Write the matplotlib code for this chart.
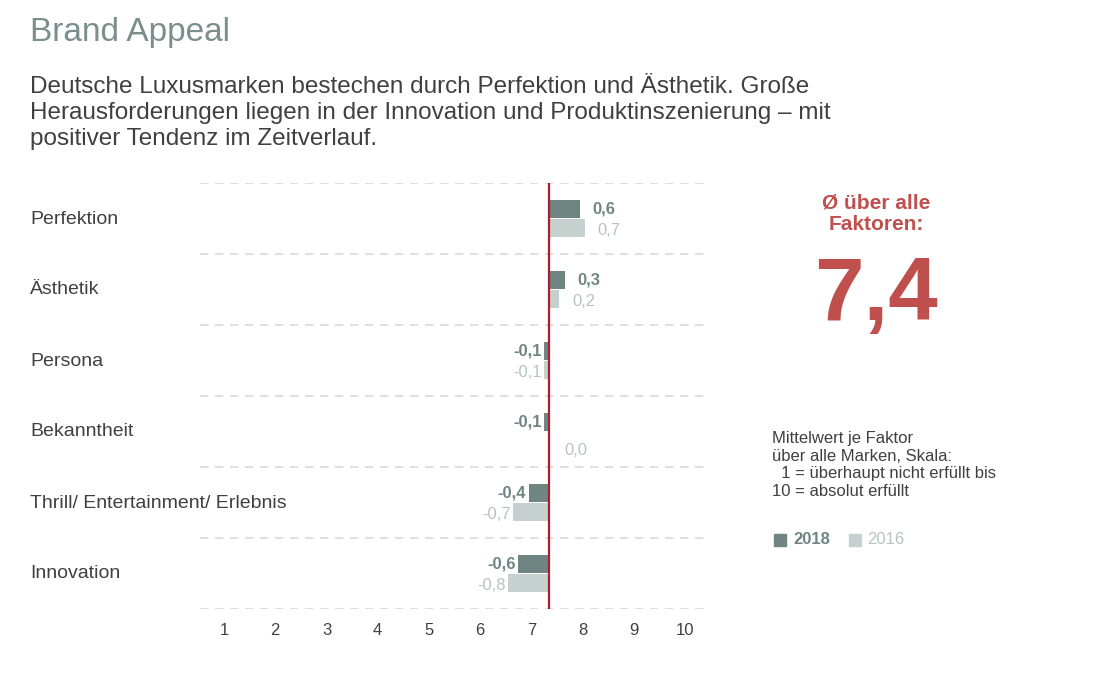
import numpy as np
import matplotlib
matplotlib.use("Agg")
import matplotlib.pyplot as plt

plt.rcParams['font.family'] = ['Liberation Sans', 'DejaVu Sans']

# data
categories = ["Perfektion", "Ästhetik", "Persona", "Bekanntheit",
              "Thrill/ Entertainment/ Erlebnis", "Innovation"]
diff_2018 = [0.6, 0.3, -0.1, -0.1, -0.4, -0.6]
diff_2016 = [0.7, 0.2, -0.1, 0.0, -0.7, -0.8]
mean_all = 7.35
x_ticks = list(range(1, 11))

dark = "#6e8581"
light = "#c6d0ce"
red = "#c0504d"
txt = "#404040"

fig = plt.figure(figsize=(10.94, 6.75), dpi=100)
ax = fig.add_axes([200/1094, 66/675, 510/1094, 426/675])

y = np.arange(len(categories))
h = 0.25
ax.barh(y - h/2 - 0.01, diff_2018, height=h, left=mean_all, color=dark)
ax.barh(y + h/2 + 0.01, diff_2016, height=h, left=mean_all, color=light)
ax.axvline(mean_all, color="#b01c2e", lw=1.6, zorder=5)

for i, (a, b) in enumerate(zip(diff_2018, diff_2016)):
    for v, dy, col, fw in [(a, -h/2 - 0.01, dark, "bold"), (b, h/2 + 0.04, "#b8c3c1", "normal")]:
        end = mean_all + v
        s = f"{v:.1f}".replace(".", ",")
        if v > 0:
            ax.text(end + 0.25, i + dy, s, ha="left", va="center", color=col, fontsize=12, fontweight=fw)
        elif v < 0:
            ax.text(end - 0.05, i + dy, s, ha="right", va="center", color=col, fontsize=12, fontweight=fw)
        else:
            ax.text(end + 0.3, i + dy + 0.1, s, ha="left", va="center", color=col, fontsize=12, fontweight=fw)
    yfig = (675 - (219 + 71 * i)) / 675
    fig.text(30/1094, yfig, categories[i], ha="left", va="center", fontsize=14, color=txt)

for yl in np.arange(-0.5, len(categories), 1):
    ax.axhline(yl, color="#d9d9d9", lw=1.2, ls=(0, (5, 4)))

ax.set_xlim(0.53, 10.49)
ax.set_ylim(len(categories) - 0.5, -0.5)
ax.set_yticks([])
ax.set_xticks(x_ticks)
ax.tick_params(axis="x", length=0, labelsize=12, labelcolor=txt, pad=10)
for s in ax.spines.values():
    s.set_visible(False)

fig.text(30/1094, 1 - 32/675, "Brand Appeal", fontsize=24, color="#7a8f8c", va="center")
fig.text(30/1094, 1 - 113/675,
         "Deutsche Luxusmarken bestechen durch Perfektion und Ästhetik. Große\n"
         "Herausforderungen liegen in der Innovation und Produktinszenierung – mit\n"
         "positiver Tendenz im Zeitverlauf.",
         fontsize=17.5, color=txt, va="center", linespacing=1.25)

fig.text(876/1094, 1 - 214/675, "Ø über alle\nFaktoren:", ha="center", va="center",
         fontsize=15, fontweight="bold", color=red, linespacing=1.2)
fig.text(876/1094, 1 - 297/675, "7,4", ha="center", va="center",
         fontsize=64, fontweight="bold", color=red)
fig.text(772/1094, 1 - 465/675,
         "Mittelwert je Faktor\nüber alle Marken, Skala:\n  1 = überhaupt nicht erfüllt bis\n10 = absolut erfüllt",
         ha="left", va="center", fontsize=12, color=txt, linespacing=1.2)

fig.patches.append(plt.Rectangle((774/1094, 1 - 546/675), 12/1094, 12/675,
                                 transform=fig.transFigure, color=dark))
fig.text(793/1094, 1 - 540/675, "2018", fontsize=12, fontweight="bold", color=dark, va="center")
fig.patches.append(plt.Rectangle((849/1094, 1 - 546/675), 12/1094, 12/675,
                                 transform=fig.transFigure, color=light))
fig.text(867/1094, 1 - 540/675, "2016", fontsize=12, color="#b8c3c1", va="center")

fig.savefig("out.png", dpi=100)
